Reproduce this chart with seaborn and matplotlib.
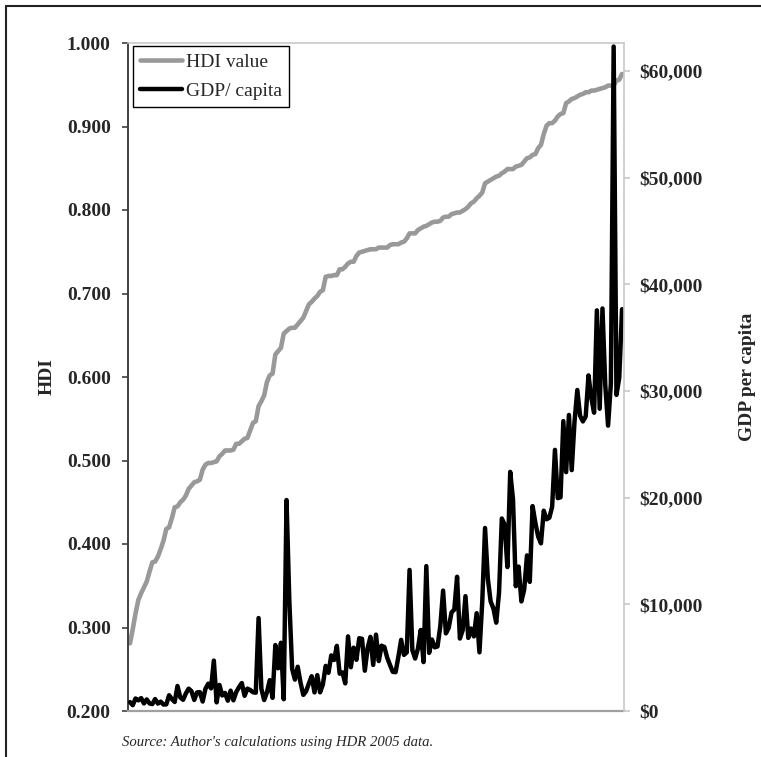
import numpy as np
import pandas as pd
import matplotlib
matplotlib.use("Agg")
import matplotlib.pyplot as plt
import seaborn as sns
from matplotlib.lines import Line2D
from matplotlib.ticker import FuncFormatter

# --- Data: countries sorted by HDI (ascending), HDR 2005 ---
countries = [
    "Niger", "Sierra Leone", "Burkina Faso", "Mali", "Chad", "Guinea-Bissau",
    "Central African Rep.", "Ethiopia", "Burundi", "Mozambique", "Congo DR", "Zambia",
    "Malawi", "Tanzania", "Cote d'Ivoire", "Benin", "Eritrea", "Angola",
    "Rwanda", "Nigeria", "Senegal", "Guinea", "Gambia", "Kenya",
    "Haiti", "Mauritania", "Yemen", "Djibouti", "Lesotho", "Cameroon",
    "Swaziland", "Madagascar", "Zimbabwe", "Uganda", "Togo", "Congo",
    "Sudan", "Timor-Leste", "Bangladesh", "Ghana", "Papua New Guinea", "Nepal",
    "Pakistan", "Bhutan", "Laos", "Comoros", "Botswana", "Cambodia",
    "Myanmar", "Solomon Islands", "India", "Sao Tome", "Namibia", "Morocco",
    "Gabon", "Tajikistan", "Equatorial Guinea", "South Africa", "Egypt", "Vanuatu",
    "Guatemala", "Honduras", "Moldova", "Mongolia", "Bolivia", "Nicaragua",
    "Uzbekistan", "Indonesia", "Kyrgyzstan", "Viet Nam", "Guyana", "Syria",
    "Cape Verde", "El Salvador", "Algeria", "OPT", "Azerbaijan", "Georgia",
    "Iran", "Jamaica", "Turkmenistan", "Maldives", "Dominican Rep.", "Turkey",
    "Sri Lanka", "Fiji", "Belize", "Jordan", "Tunisia", "Paraguay",
    "St Vincent", "Suriname", "China", "Philippines", "Armenia", "Ecuador",
    "Lebanon", "Kazakhstan", "Peru", "Ukraine", "Saudi Arabia", "St Lucia",
    "Venezuela", "Samoa", "Thailand", "Albania", "Oman", "Dominica",
    "Colombia", "Bosnia", "Belarus", "Grenada", "Mauritius", "Romania",
    "Brazil", "Russia", "Malaysia", "Antigua", "Macedonia", "Libya",
    "Trinidad", "Panama", "Bulgaria", "Tonga", "Mexico", "Cuba",
    "Seychelles", "Bahamas", "St Kitts", "Latvia", "Costa Rica", "Uruguay",
    "Croatia", "Kuwait", "Bahrain", "Slovakia", "UAE", "Qatar",
    "Lithuania", "Estonia", "Chile", "Poland", "Hungary", "Argentina",
    "Brunei", "Malta", "Czech Rep.", "Barbados", "Cyprus", "Korea",
    "Portugal", "Slovenia", "Singapore", "Greece", "Israel", "Hong Kong",
    "Spain", "Germany", "New Zealand", "Italy", "Austria", "France",
    "UK", "Finland", "Denmark", "Netherlands", "Japan", "USA",
    "Belgium", "Ireland", "Switzerland", "Sweden", "Canada", "Luxembourg",
    "Australia", "Iceland", "Norway",
]

hdi = [
    0.281, 0.298, 0.317, 0.333, 0.341, 0.348, 0.355, 0.367, 0.378, 0.379, 0.385, 0.394,
    0.404, 0.418, 0.420, 0.431, 0.444, 0.445, 0.450, 0.453, 0.458, 0.466, 0.470, 0.474,
    0.475, 0.477, 0.489, 0.495, 0.497, 0.497, 0.498, 0.499, 0.505, 0.508, 0.512, 0.512,
    0.512, 0.513, 0.520, 0.520, 0.523, 0.526, 0.527, 0.536, 0.545, 0.547, 0.565, 0.571,
    0.578, 0.594, 0.602, 0.604, 0.627, 0.631, 0.635, 0.652, 0.655, 0.658, 0.659, 0.659,
    0.663, 0.667, 0.671, 0.679, 0.687, 0.690, 0.694, 0.697, 0.702, 0.704, 0.720, 0.721,
    0.721, 0.722, 0.722, 0.729, 0.729, 0.732, 0.736, 0.738, 0.738, 0.745, 0.749, 0.750,
    0.751, 0.752, 0.753, 0.753, 0.753, 0.755, 0.755, 0.755, 0.755, 0.758, 0.759, 0.759,
    0.759, 0.761, 0.762, 0.766, 0.772, 0.772, 0.772, 0.776, 0.778, 0.780, 0.781, 0.783,
    0.785, 0.786, 0.786, 0.787, 0.791, 0.792, 0.792, 0.795, 0.796, 0.797, 0.797, 0.799,
    0.801, 0.804, 0.808, 0.810, 0.814, 0.817, 0.821, 0.832, 0.834, 0.836, 0.838, 0.840,
    0.841, 0.844, 0.846, 0.849, 0.849, 0.849, 0.852, 0.853, 0.854, 0.858, 0.862, 0.863,
    0.866, 0.867, 0.874, 0.878, 0.891, 0.901, 0.904, 0.904, 0.907, 0.912, 0.915, 0.916,
    0.928, 0.930, 0.933, 0.934, 0.936, 0.938, 0.939, 0.941, 0.941, 0.943, 0.943, 0.944,
    0.945, 0.946, 0.947, 0.949, 0.949, 0.949, 0.955, 0.956, 0.963,
]

gdp = [
    835, 548, 1174, 994, 1210, 711, 1089, 711, 648, 1117, 697, 877,
    605, 621, 1476, 1115, 849, 2344, 1268, 1050, 1648, 2097, 1859, 1037,
    1742, 1766, 889, 2086, 2561, 2118, 4726, 809, 2443, 1457, 1696, 965,
    1910, 1000, 1770, 2238, 2619, 1420, 2097, 1969, 1759, 1714, 8714, 2078,
    1027, 1753, 2892, 1231, 6180, 4004, 6397, 1106, 19780, 10346, 3950, 2944,
    4148, 2665, 1510, 1850, 2587, 3262, 1744, 3361, 1751, 2490, 4230, 3576,
    5214, 4781, 6107, 3500, 3617, 2588, 6995, 4104, 5938, 4800, 6823, 6772,
    3778, 5880, 6950, 4320, 7161, 4684, 6123, 6000, 5003, 4321, 3671, 3641,
    5074, 6671, 5260, 5491, 13226, 5709, 4919, 5854, 7595, 4584, 13584, 5448,
    6702, 5967, 6052, 7959, 11287, 7277, 7790, 9230, 9512, 12586, 6794, 7570,
    10766, 6854, 7731, 6992, 9168, 5500, 10232, 17159, 12404, 10270, 9606, 8280,
    11080, 18047, 17479, 13494, 22420, 19844, 11702, 13539, 10274, 11379, 14584, 12106,
    19210, 17633, 16357, 15720, 18776, 17971, 18126, 19150, 24481, 19954, 20033, 27179,
    22391, 27756, 22582, 27119, 30094, 27677, 27147, 27619, 31465, 29371, 27967, 37562,
    28335, 37738, 30552, 26750, 30677, 62298, 29632, 31243, 37670,
]

hdi_ticks = [0.2, 0.3, 0.4, 0.5, 0.6, 0.7, 0.8, 0.9, 1.0]
gdp_ticks = [0, 10000, 20000, 30000, 40000, 50000, 60000]

df = pd.DataFrame({"country": countries, "hdi": hdi, "gdp": gdp})
df["pos"] = np.arange(len(df))

sns.set_style("white")
plt.rcParams["font.family"] = ["Liberation Serif", "DejaVu Serif"]

fig = plt.figure(figsize=(7.61, 7.57), dpi=100)
ax = fig.add_axes([128 / 761, 46 / 757, 496 / 761, 668 / 757])

sns.lineplot(data=df, x="pos", y="hdi", ax=ax, color="#999999", linewidth=3.3)
ax2 = ax.twinx()
sns.lineplot(data=df, x="pos", y="gdp", ax=ax2, color="black", linewidth=3.2)

ax.set_xlim(-0.7, len(df) - 0.3)
ax.set_ylim(0.2, 1.0)
ax2.set_ylim(0, 62625)
ax.set_xticks([])
ax.set_xlabel("")

ax.set_yticks(hdi_ticks)
ax.yaxis.set_major_formatter(FuncFormatter(lambda v, p: f"{v:.3f}"))
ax2.set_yticks(gdp_ticks)
ax2.yaxis.set_major_formatter(FuncFormatter(lambda v, p: f"${v:,.0f}"))

ax.tick_params(axis="y", direction="out", length=4.5, width=1.2, color="#404040",
               pad=8, labelsize=14, left=True)
ax2.tick_params(axis="y", direction="out", length=4.5, width=1.2, color="#c8c8c8",
                pad=6.5, labelsize=14, right=True)
for lab in ax.get_yticklabels() + ax2.get_yticklabels():
    lab.set_fontweight("bold")

# spines
for a in (ax, ax2):
    for s in a.spines.values():
        s.set_visible(False)
ax.spines["left"].set_visible(True)
ax.spines["left"].set_color("#404040")
ax.spines["left"].set_linewidth(1.4)
ax.spines["bottom"].set_visible(True)
ax.spines["bottom"].set_color("#a0a0a0")
ax.spines["bottom"].set_linewidth(1.6)
ax.spines["top"].set_visible(True)
ax.spines["top"].set_color("#c8c8c8")
ax.spines["top"].set_linewidth(1.2)
ax2.spines["right"].set_visible(True)
ax2.spines["right"].set_color("#c8c8c8")
ax2.spines["right"].set_linewidth(1.2)

ax.set_ylabel("HDI", fontsize=14, fontweight="bold")
ax.yaxis.set_label_coords(-0.145, 0.5)
ax2.set_ylabel("GDP per capita", fontsize=14, fontweight="bold")
ax2.yaxis.set_label_coords(1.232, 0.5)

handles = [Line2D([], [], color="#999999", lw=3.3), Line2D([], [], color="black", lw=3.2)]
leg = ax2.legend(handles, ["HDI value", "GDP/ capita"], loc="upper left",
                 bbox_to_anchor=(0.01, 0.995), frameon=True, fancybox=False,
                 edgecolor="black", fontsize=14, handlelength=2.15, handletextpad=0.25,
                 borderpad=0.35, labelspacing=0.6, borderaxespad=0)
leg.get_frame().set_linewidth(1.0)
leg.get_frame().set_alpha(1)

fig.text(122 / 761, 1 - 746 / 757, "Source: Author's calculations using HDR 2005 data.",
         fontsize=10.6, style="italic", va="baseline", ha="left")

# outer frame (left and top edges visible)
fig.add_artist(Line2D([6 / 761, 6 / 761], [0, 1 - 6 / 757], color="#222222", lw=1.5,
                      transform=fig.transFigure))
fig.add_artist(Line2D([6 / 761, 1], [1 - 6 / 757, 1 - 6 / 757], color="#222222", lw=1.5,
                      transform=fig.transFigure))

fig.savefig("out.png", dpi=100)
